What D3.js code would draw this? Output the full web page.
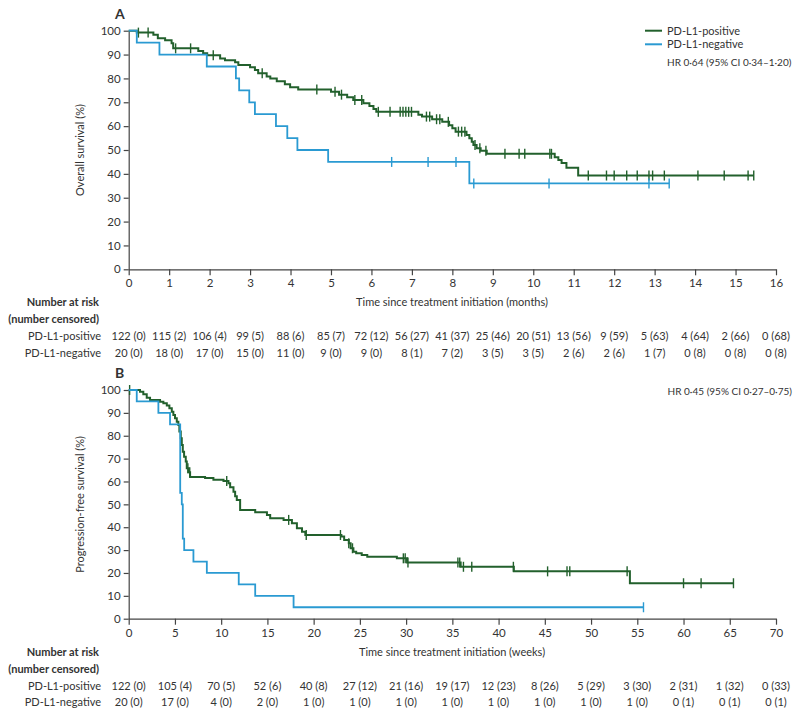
<!DOCTYPE html>
<html><head><meta charset="utf-8">
<script src="https://cdn.jsdelivr.net/npm/d3@7/dist/d3.min.js"></script>
<style>
body{margin:0;background:#fff;}
text{font-family:"Lato","Open Sans",sans-serif;fill:#333;}
</style></head>
<body><svg id="c" width="800" height="712"></svg>
<script>
// ---------- Panel A: overall survival (months) ----------
const osPosSteps = [[0,100],[0.2,99.2],[0.61,98.3],[0.72,96.8],[0.9,96.0],[1.06,94.7],[1.1,92.6],[1.72,91.5],[1.84,90.5],[1.94,89.7],[2.26,88.4],[2.38,87.6],[2.63,86.8],[2.71,85.6],[3.0,84.7],[3.12,83.5],[3.2,82.2],[3.41,80.8],[3.5,80.0],[3.66,78.8],[3.86,77.6],[3.99,76.3],[4.19,75.4],[5.0,74.4],[5.2,73.2],[5.4,72.1],[5.55,71.0],[5.8,69.6],[5.95,68.4],[6.05,67.2],[6.12,66.0],[7.16,64.8],[7.25,64.0],[7.5,62.9],[7.75,61.8],[7.92,60.4],[8.0,59.1],[8.08,57.7],[8.35,56.3],[8.42,54.9],[8.48,53.5],[8.52,52.1],[8.6,50.7],[8.7,49.7],[8.85,48.4],[10.53,47.0],[10.62,45.8],[10.7,44.6],[10.82,42.6],[11.11,39.3]];
const osPosCensor = [0.24,0.48,1.16,1.53,2.09,3.3,4.65,5.1,5.26,5.59,5.76,6.17,6.46,6.71,6.78,6.85,6.92,6.99,7.36,7.44,7.61,7.69,7.9,8.15,8.23,8.31,8.56,8.68,8.83,9.3,9.65,9.79,10.41,10.45,11.36,11.81,12.0,12.31,12.57,12.86,12.95,13.24,14.07,14.72,15.31,15.45];
const osPosEnd = 15.45;
const osNegSteps = [[0,100],[0.2,95],[0.76,90],[1.93,85],[2.65,80],[2.73,75],[2.98,70],[3.12,65],[3.64,60],[3.92,55],[4.17,50],[4.93,45],[8.42,36]];
const osNegCensor = [6.5,7.4,8.09,8.53,10.39,12.86,13.36];
const osNegEnd = 13.36;
const osTicksX = d3.range(0,17,1);
const osRiskPos = [122,115,106,99,88,85,72,56,41,25,20,13,9,5,4,2,0];
const osCensPos = [0,2,4,5,6,7,12,27,37,46,51,56,59,63,64,66,68];
const osRiskNeg = [20,18,17,15,11,9,9,8,7,3,3,2,2,1,0,0,0];
const osCensNeg = [0,0,0,0,0,0,0,1,2,5,5,6,6,7,8,8,8];

// ---------- Panel B: progression-free survival (weeks) ----------
const pfsPosSteps = [[0,100],[1.22,99.2],[1.58,98.1],[1.95,96.6],[2.31,95.6],[3.39,94.9],[3.75,94.2],[4.12,93.2],[4.4,92.0],[4.66,90.5],[4.83,89.1],[5.01,87.6],[5.2,86.1],[5.37,84.7],[5.48,81.8],[5.63,78.9],[5.74,76.0],[5.85,73.0],[5.99,70.8],[6.17,68.7],[6.28,65.8],[6.46,64.0],[6.64,62.0],[8.26,61.5],[9.16,60.8],[10.25,60.2],[10.79,59.2],[10.97,57.5],[11.33,55.5],[11.51,53.5],[11.69,51.9],[12.05,47.5],[13.68,46.5],[14.95,45.3],[15.3,43.9],[16.75,43.2],[17.65,41.7],[18.19,39.5],[18.74,38.0],[19.1,36.6],[23.0,35.9],[23.3,34.4],[23.8,33.0],[24.0,30.8],[24.3,29.3],[24.6,28.6],[25.2,27.9],[25.8,27.1],[29.0,26.4],[30.1,24.6],[35.9,22.7],[41.65,20.7],[54.2,15.5]];
const pfsPosCensor = [0.1,6.4,6.6,10.6,17.3,19.2,22.9,23.8,24.2,29.7,29.9,30.2,35.6,35.8,36.2,37.1,41.6,45.3,47.4,47.7,53.9,60.0,61.9,65.4];
const pfsPosEnd = 65.4;
const pfsNegSteps = [[0,100],[0.87,95],[3.21,90],[4.47,85],[5.57,55],[5.74,50],[5.85,35],[6.0,30],[7.0,25],[8.45,20],[11.9,15],[13.68,10],[17.83,5]];
const pfsNegCensor = [55.67];
const pfsNegEnd = 55.67;
const pfsTicksX = d3.range(0,75,5);
const pfsRiskPos = [122,105,70,52,40,27,21,19,12,8,5,3,2,1,0];
const pfsCensPos = [0,4,5,6,8,12,16,17,23,26,29,30,31,32,33];
const pfsRiskNeg = [20,17,4,2,1,1,1,1,1,1,1,1,0,0,0];
const pfsCensNeg = [0,0,0,0,0,0,0,0,0,0,0,0,1,1,1];

const groupNames = ["PD-L1-positive","PD-L1-negative"];
const yTicks = d3.range(0,101,10);
const GREEN = "#22602c", BLUE = "#2a9ad2";

const svg = d3.select("#c");

function surv(steps, t){
  let s = steps[0][1];
  for (const [tt, v] of steps){ if (tt <= t + 1e-9) s = v; else break; }
  return s;
}

function panel(o){
  const x = d3.scaleLinear().domain([0,o.xmax]).range([128.7,776]);
  const y = d3.scaleLinear().domain([0,100]).range([o.y0, o.y100]);
  const g = svg.append("g");

  g.append("text").attr("x",115).attr("y",o.y100-12).attr("font-size",14).attr("font-weight","bold").text(o.letter);

  const ya = g.append("g").attr("transform","translate(128.7,0)")
    .call(d3.axisLeft(y).tickValues(yTicks).tickSize(5).tickSizeOuter(0).tickPadding(3));
  const xa = g.append("g").attr("transform",`translate(0,${o.y0})`)
    .call(d3.axisBottom(x).tickValues(o.ticks).tickSize(6).tickSizeOuter(0).tickPadding(4));
  [ya,xa].forEach(a=>{
    a.selectAll("path,line").attr("stroke","#444").attr("stroke-width",1.2);
    a.selectAll("text").attr("font-size",11.5).attr("fill","#333").style("font-family",'"Lato","Open Sans",sans-serif');
  });

  g.append("text").attr("transform",`translate(84,${(o.y0+o.y100)/2}) rotate(-90)`)
    .attr("text-anchor","middle").attr("font-size",11).text(o.ylabel);
  g.append("text").attr("x",452).attr("y",o.y0+37).attr("text-anchor","middle").attr("font-size",11).text(o.xlabel);

  const line = d3.line().x(d=>x(d[0])).y(d=>y(d[1])).curve(d3.curveStepAfter);
  o.series.forEach(s=>{
    const pts = s.steps.concat([[s.end, s.steps[s.steps.length-1][1]]]);
    g.append("path").attr("d",line(pts)).attr("fill","none").attr("stroke",s.color).attr("stroke-width",s.w);
    g.selectAll(null).data(s.censor).enter().append("line")
      .attr("x1",d=>x(d)).attr("x2",d=>x(d))
      .attr("y1",d=>y(surv(s.steps,d))-5).attr("y2",d=>y(surv(s.steps,d))+5)
      .attr("stroke",s.color).attr("stroke-width",1.4);
  });

  const ty = o.y0 + 37;
  g.append("text").attr("x",99).attr("y",ty).attr("text-anchor","end").attr("font-size",11).attr("font-weight","bold").text("Number at risk");
  g.append("text").attr("x",99).attr("y",ty+17).attr("text-anchor","end").attr("font-size",11).attr("font-weight","bold").text("(number censored)");
  o.table.forEach((r,i)=>{
    const yy = ty + 34 + i*16.5;
    g.append("text").attr("x",101).attr("y",yy).attr("text-anchor","end").attr("font-size",11).text(groupNames[i]);
    g.selectAll(null).data(o.ticks).enter().append("text")
      .attr("x",d=>x(d)).attr("y",yy).attr("text-anchor","middle").attr("font-size",11)
      .text((d,j)=>`${r.risk[j]} (${r.cens[j]})`);
  });
}

panel({letter:"A", xmax:16, ticks:osTicksX, y0:269.3, y100:30.7,
  ylabel:"Overall survival (%)", xlabel:"Time since treatment initiation (months)",
  series:[{steps:osPosSteps,censor:osPosCensor,end:osPosEnd,color:GREEN,w:2},
          {steps:osNegSteps,censor:osNegCensor,end:osNegEnd,color:BLUE,w:1.8}],
  table:[{risk:osRiskPos,cens:osCensPos},{risk:osRiskNeg,cens:osCensNeg}]});

panel({letter:"B", xmax:70, ticks:pfsTicksX, y0:618.7, y100:390,
  ylabel:"Progression-free survival (%)", xlabel:"Time since treatment initiation (weeks)",
  series:[{steps:pfsPosSteps,censor:pfsPosCensor,end:pfsPosEnd,color:GREEN,w:2},
          {steps:pfsNegSteps,censor:pfsNegCensor,end:pfsNegEnd,color:BLUE,w:1.8}],
  table:[{risk:pfsRiskPos,cens:pfsCensPos},{risk:pfsRiskNeg,cens:pfsCensNeg}]});

const lg = svg.append("g");
[[GREEN,groupNames[0],30.7],[BLUE,groupNames[1],44.3]].forEach(([c,t,yy])=>{
  lg.append("line").attr("x1",645).attr("x2",662).attr("y1",yy).attr("y2",yy).attr("stroke",c).attr("stroke-width",2);
  lg.append("text").attr("x",667).attr("y",yy+4).attr("font-size",11).text(t);
});
lg.append("text").attr("x",667).attr("y",66).attr("font-size",10).text("HR 0·64 (95% CI 0·34–1·20)");
lg.append("text").attr("x",792).attr("y",395).attr("text-anchor","end").attr("font-size",10).text("HR 0·45 (95% CI 0·27–0·75)");
</script></body></html>
